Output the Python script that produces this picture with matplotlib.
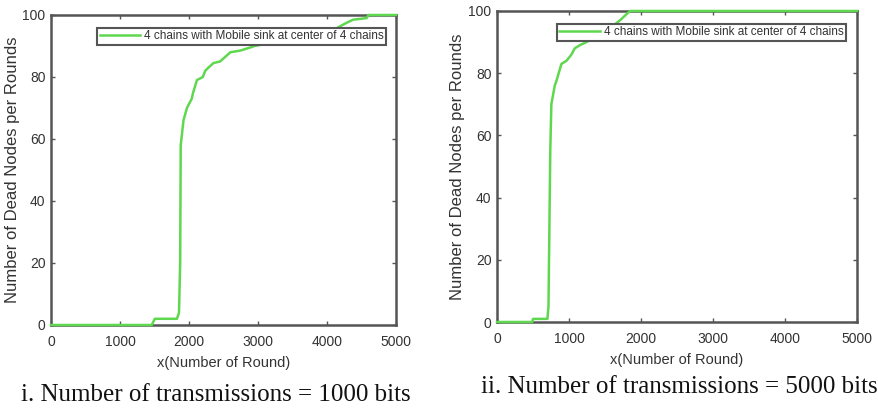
import matplotlib.pyplot as plt

# dead nodes vs rounds
rounds_1000 = [0, 1460, 1505, 1825, 1855, 1872, 1880, 1920, 1970, 2040, 2060, 2115, 2200,
               2235, 2280, 2355, 2450, 2500, 2600, 2740, 2885, 2950, 4100, 4160, 4285,
               4380, 4575, 4600, 5000]
dead_1000 = [0, 0, 2, 2, 4, 20, 58, 66, 70, 73, 75, 79, 80,
             82, 83, 84.5, 85, 86, 88, 88.5, 89.5, 90, 95, 96, 97.5,
             98.5, 99, 100, 100]

rounds_5000 = [0, 490, 500, 700, 715, 740, 755, 802, 825, 895, 965, 1034, 1080,
               1150, 1243, 1400, 1600, 1708, 1800, 1850, 5000]
dead_5000 = [0, 0, 1, 1, 5, 55, 70, 76, 77.5, 83, 84, 86, 88,
             89, 90, 92, 95, 97, 99, 100, 100]

captions = ["i. Number of transmissions = 1000 bits",
            "ii. Number of transmissions = 5000 bits"]
legend_label = "4 chains with Mobile sink at center of 4 chains"

green = "#5fd84f"
frame = "#555555"
txt = "#333333"

plt.rcParams['font.family'] = ['Liberation Sans', 'DejaVu Sans']

fig = plt.figure(figsize=(8.79, 4.08), dpi=100)
W, H = 879, 408

def make_axes(left, top, right, bottom):
    return fig.add_axes([left / W, 1 - bottom / H, (right - left) / W, (bottom - top) / H])

ax1 = make_axes(51, 15, 396, 325)
ax2 = make_axes(497, 11, 857, 322)

panels = [(ax1, rounds_1000, dead_1000, (-0.113, 0.5), (0.5, -0.123), (0.971, 0.958)),
          (ax2, rounds_5000, dead_5000, (-0.111, 0.5), (0.5, -0.122), (0.969, 0.958))]
for ax, xs, ys, ylab_pos, xlab_pos, leg_pos in panels:
    ax.plot(xs, ys, color=green, lw=1.8, label=legend_label, clip_on=False, zorder=3)
    ax.set_xlim(0, 5000)
    ax.set_ylim(0, 100)
    ax.set_xticks([0, 1000, 2000, 3000, 4000, 5000])
    ax.set_yticks([0, 20, 40, 60, 80, 100])
    ax.tick_params(direction='in', top=True, right=True, length=3, width=1,
                   color=frame, labelsize=10, labelcolor=txt)
    ax.tick_params(axis='x', pad=7)
    ax.tick_params(axis='y', pad=4)
    for s in ax.spines.values():
        s.set_color(frame)
        s.set_linewidth(1.8)
    ax.set_xlabel("x(Number of Round)", fontsize=10.5, color=txt, va='center')
    ax.set_ylabel("Number of Dead Nodes per Rounds", fontsize=12, color=txt,
                  va='center', ha='center')
    ax.xaxis.set_label_coords(*xlab_pos)
    ax.yaxis.set_label_coords(*ylab_pos)
    leg = ax.legend(loc='upper right', fontsize=8.5, frameon=True, fancybox=False,
                    handlelength=3.4, borderpad=0.2, handletextpad=0.35,
                    borderaxespad=0, bbox_to_anchor=leg_pos, framealpha=1)
    leg.get_frame().set_edgecolor(frame)
    leg.get_frame().set_linewidth(1.5)
    for t in leg.get_texts():
        t.set_color(txt)
    leg.set_zorder(5)

fig.text(216 / W, 1 - 395 / H, captions[0], ha='center', va='center',
         fontsize=18, family='Liberation Serif', color='#111111')
fig.text(679 / W, 1 - 387 / H, captions[1], ha='center', va='center',
         fontsize=18, family='Liberation Serif', color='#111111')

fig.savefig("out.png", dpi=100)
